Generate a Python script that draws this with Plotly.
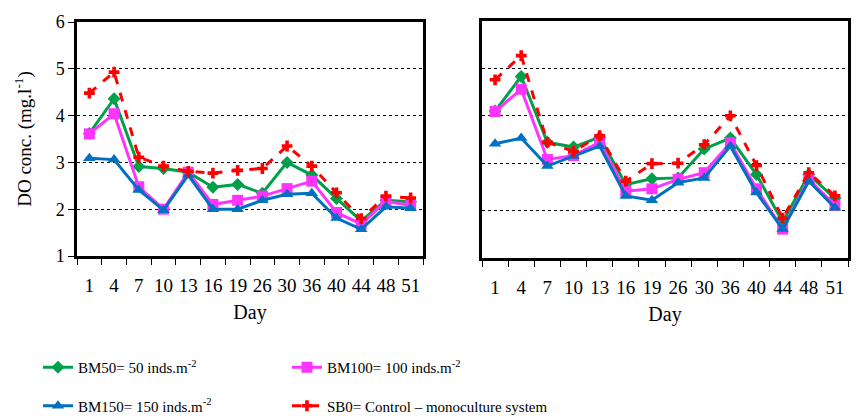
import plotly.graph_objects as go

days = ["1", "4", "7", "10", "13", "16", "19", "26", "30", "36", "40", "44", "48", "51"]

# Left panel
left_bm50 = [3.62, 4.36, 2.91, 2.87, 2.79, 2.47, 2.53, 2.34, 3.00, 2.73, 2.23, 1.75, 2.19, 2.16]
left_bm100 = [3.61, 4.04, 2.48, 2.00, 2.79, 2.10, 2.19, 2.28, 2.44, 2.60, 1.93, 1.68, 2.17, 2.08]
left_bm150 = [3.09, 3.06, 2.41, 1.98, 2.73, 2.00, 2.00, 2.19, 2.32, 2.34, 1.81, 1.57, 2.05, 2.02]
left_sb0 = [4.48, 4.93, 3.11, 2.92, 2.81, 2.77, 2.83, 2.87, 3.35, 2.92, 2.35, 1.80, 2.28, 2.24]

# Right panel
right_bm50 = [4.10, 4.83, 3.44, 3.34, 3.55, 2.55, 2.67, 2.69, 3.30, 3.53, 2.76, 1.76, 2.76, 2.26]
right_bm100 = [4.09, 4.56, 3.08, 3.16, 3.44, 2.41, 2.46, 2.66, 2.80, 3.43, 2.46, 1.61, 2.66, 2.11]
right_bm150 = [3.41, 3.53, 2.94, 3.15, 3.36, 2.31, 2.22, 2.59, 2.69, 3.36, 2.38, 1.61, 2.62, 2.06]
right_sb0 = [4.76, 5.27, 3.44, 3.25, 3.58, 2.62, 2.99, 3.00, 3.39, 4.00, 2.95, 1.84, 2.80, 2.31]

names = {
    "bm50": "BM50= 50 inds.m<sup>-2</sup>",
    "bm100": "BM100= 100 inds.m<sup>-2</sup>",
    "bm150": "BM150= 150 inds.m<sup>-2</sup>",
    "sb0": "SB0= Control \u2013 monoculture system",
}

styles = {
    "bm50": dict(line=dict(color="#00A04A", width=3), marker=dict(symbol="diamond", size=10, color="#00A04A"), legend="legend"),
    "bm100": dict(line=dict(color="#FF33FF", width=3), marker=dict(symbol="square", size=11, color="#FF33FF"), legend="legend2"),
    "bm150": dict(line=dict(color="#0070C0", width=3), marker=dict(symbol="triangle-up", size=11, color="#0070C0"), legend="legend"),
    "sb0": dict(line=dict(color="#FF0000", width=3, dash="dash"), marker=dict(symbol="cross", size=9, color="#FF0000"), legend="legend2"),
}

fig = go.Figure()
panels = [
    ("x", "y", {"bm50": left_bm50, "bm100": left_bm100, "bm150": left_bm150, "sb0": left_sb0}, True),
    ("x2", "y2", {"bm50": right_bm50, "bm100": right_bm100, "bm150": right_bm150, "sb0": right_sb0}, False),
]
for xa, ya, data, show in panels:
    for key in ["bm50", "bm100", "bm150", "sb0"]:
        st = styles[key]
        fig.add_trace(go.Scatter(
            x=days, y=data[key], mode="lines+markers", name=names[key],
            line=st["line"], marker=st["marker"], xaxis=xa, yaxis=ya,
            showlegend=show, legend=st["legend"], legendgroup=key,
        ))

FF = "Liberation Serif"
W, H = 858, 417

xcommon = dict(type="category", range=[-0.5, 13.5], tickson="boundaries", ticks="outside",
               ticklen=6, tickcolor="black", showline=True, linecolor="black", linewidth=2.5,
               mirror=True, showgrid=False, tickangle=0, ticklabelstandoff=10,
               tickfont=dict(size=19, color="black", family=FF),
               title=dict(text="Day", font=dict(size=20, color="black", family=FF), standoff=11))
ycommon = dict(range=[1, 6], dtick=1, showline=True, linecolor="black", linewidth=2.5, mirror=True,
               showgrid=True, gridcolor="black", gridwidth=1, griddash="dot", zeroline=False)

fig.update_layout(
    width=W, height=H,
    margin=dict(l=0, r=0, t=0, b=0, autoexpand=False),
    paper_bgcolor="white", plot_bgcolor="white",
    font=dict(family=FF, color="black"),
    xaxis=dict(domain=[77 / W, 423 / W], anchor="y", **xcommon),
    xaxis2=dict(domain=[482 / W, 848 / W], anchor="y2", **xcommon),
    yaxis=dict(domain=[1 - 256 / H, 1 - 22 / H], anchor="x", ticks="outside", ticklen=6,
               tickcolor="black", tickfont=dict(size=18, color="black", family=FF),
               title=dict(text="DO conc. (mg.l<sup>-1</sup>)", font=dict(size=19, color="black", family=FF), standoff=20),
               **ycommon),
    yaxis2=dict(domain=[1 - 258 / H, 1 - 21 / H], anchor="x2", showticklabels=False, ticks="", **ycommon),
    legend=dict(x=38 / W, y=1 - 351 / H, xanchor="left", yanchor="top", orientation="v",
                font=dict(size=15, color="black", family=FF), tracegroupgap=16,
                bgcolor="rgba(0,0,0,0)"),
    legend2=dict(x=287 / W, y=1 - 351 / H, xanchor="left", yanchor="top", orientation="v",
                 font=dict(size=15, color="black", family=FF), tracegroupgap=16,
                 bgcolor="rgba(0,0,0,0)"),
)

fig.write_html("out.html")
